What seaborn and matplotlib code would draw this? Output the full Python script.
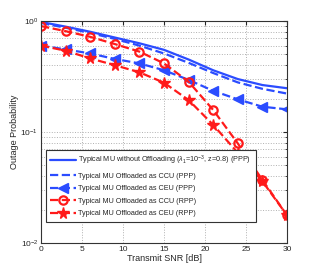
import numpy as np
import pandas as pd
import matplotlib
matplotlib.use("Agg")
import matplotlib.pyplot as plt
import seaborn as sns

snr = [0, 3, 6, 9, 12, 15, 18, 21, 24, 27, 30]
no_offload = [0.98, 0.89, 0.80, 0.71, 0.63, 0.55, 0.45, 0.36, 0.30, 0.265, 0.248]
ccu_ppp = [0.96, 0.87, 0.78, 0.69, 0.60, 0.51, 0.42, 0.34, 0.28, 0.245, 0.222]
ceu_ppp = [0.60, 0.555, 0.51, 0.455, 0.415, 0.36, 0.295, 0.235, 0.197, 0.169, 0.16]
ccu_rpp = [0.90, 0.81, 0.72, 0.62, 0.53, 0.415, 0.284, 0.158, 0.079, 0.037, 0.0178]
ceu_rpp = [0.60, 0.54, 0.46, 0.40, 0.345, 0.278, 0.194, 0.116, 0.065, 0.036, 0.0178]

labels = [
    r"Typical MU without Offloading ($\lambda_1$=10$^{-3}$, z=0.8) (PPP)",
    "Typical MU Offloaded as CCU (PPP)",
    "Typical MU Offloaded as CEU (PPP)",
    "Typical MU Offloaded as CCU (RPP)",
    "Typical MU Offloaded as CEU (RPP)",
]

sns.set_style("white")
plt.rcParams["font.family"] = ["Liberation Sans", "DejaVu Sans"]
plt.rcParams["mathtext.fontset"] = "custom"
plt.rcParams["mathtext.rm"] = "Liberation Sans"
plt.rcParams["mathtext.it"] = "Liberation Sans:italic"

fig = plt.figure(figsize=(3.16, 2.73), dpi=100)
ax = fig.add_axes([0.13, 0.11, 0.778, 0.813])

blue = "#2b4cff"
red = "#ff1a1a"
styles = [
    dict(color=blue, linestyle="-", marker=None),
    dict(color=blue, linestyle="--", marker=None),
    dict(color=blue, linestyle="--", marker="<", markersize=6.5,
         markeredgecolor=blue, markeredgewidth=1),
    dict(color=red, linestyle="--", marker="o", markersize=6, markerfacecolor="none",
         markeredgecolor=red, markeredgewidth=1.6),
    dict(color=red, linestyle="--", marker="*", markersize=8.5,
         markeredgecolor=red, markeredgewidth=1),
]
series = [no_offload, ccu_ppp, ceu_ppp, ccu_rpp, ceu_rpp]
for vals, lab, st in zip(series, labels, styles):
    df = pd.DataFrame({"snr": snr, "p": vals})
    sns.lineplot(data=df, x="snr", y="p", ax=ax, label=lab, linewidth=1.6, **st)

ax.set_yscale("log")
ax.set_xlim(0, 30)
ax.set_ylim(1e-2, 1)
ax.set_xticks([0, 5, 10, 15, 20, 25, 30])
ax.grid(True, which="major", linestyle=":", color="#b0b0b0", linewidth=0.7)
ax.grid(True, which="minor", axis="y", linestyle=":", color="#b0b0b0", linewidth=0.7)
ax.tick_params(which="both", direction="in", top=True, right=True, labelsize=6)
ax.tick_params(which="major", length=3, pad=2)
ax.tick_params(which="minor", length=1.5)
for s in ax.spines.values():
    s.set_color("#333333")
    s.set_linewidth(0.8)
ax.set_xlabel("Transmit SNR [dB]", fontsize=6.5, labelpad=1)
ax.set_ylabel("Outage Probability", fontsize=6.5, labelpad=1)

leg = ax.legend(loc="lower left", bbox_to_anchor=(0.005, 0.08), fontsize=5.2,
                handlelength=3.6, framealpha=1, fancybox=False, edgecolor="#333333",
                labelspacing=0.75, borderpad=0.6, handletextpad=0.3)
leg.get_frame().set_linewidth(0.8)

fig.savefig("out.png", dpi=100)
